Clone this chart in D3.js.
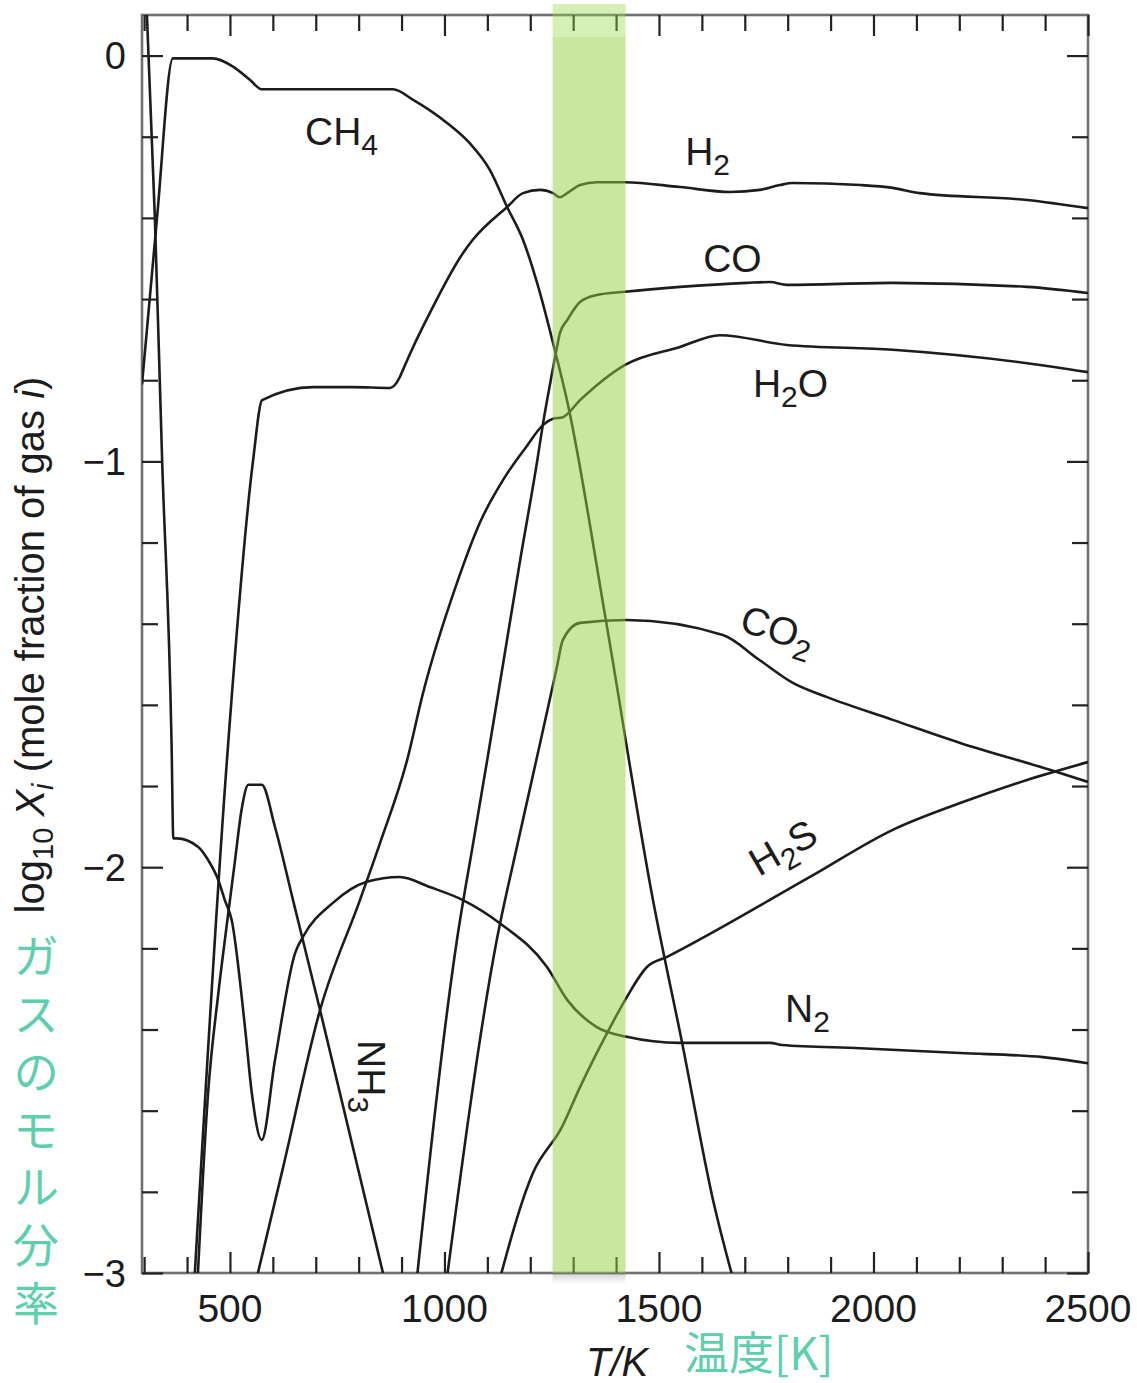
<!DOCTYPE html>
<html>
<head>
<meta charset="utf-8">
<script src="https://cdn.jsdelivr.net/npm/d3@7"></script>
<style>
  html, body { margin: 0; padding: 0; background: #fff; }
  svg { display: block; }
</style>
</head>
<body>
<svg id="chart" width="1137" height="1383"></svg>
<script>
// Equilibrium gas composition vs temperature: [T in K, log10 mole fraction]
const ch4 = [[295,-0.81],[330,-0.40],[367,-0.007],[460,-0.007],[507,-0.027],[547,-0.06],[574,-0.083],[880,-0.083],[927,-0.109],[1006,-0.166],[1059,-0.216],[1106,-0.282],[1146,-0.373],[1183,-0.454],[1220,-0.575],[1253,-0.708],[1288,-0.861],[1376,-1.39],[1486,-2.081],[1554,-2.433],[1626,-2.82],[1682,-3.05]];
const h2 = [[416,-3.04],[493,-1.736],[554,-0.997],[575,-0.849],[694,-0.817],[787,-0.817],[873,-0.819],[896,-0.792],[903,-0.775],[927,-0.718],[966,-0.634],[1043,-0.487],[1066,-0.454],[1146,-0.373],[1183,-0.339],[1223,-0.331],[1253,-0.339],[1269,-0.349],[1286,-0.339],[1316,-0.319],[1355,-0.312],[1421,-0.312],[1549,-0.324],[1666,-0.336],[1735,-0.331],[1782,-0.319],[1812,-0.314],[1969,-0.319],[2045,-0.326],[2108,-0.339],[2358,-0.356],[2500,-0.376]];
const co = [[932,-3.05],[1029,-2.18],[1067,-1.94],[1099,-1.74],[1138,-1.49],[1177,-1.24],[1216,-1.0],[1230,-0.905],[1246,-0.81],[1262,-0.72],[1269,-0.684],[1286,-0.652],[1316,-0.607],[1355,-0.59],[1421,-0.582],[1549,-0.57],[1705,-0.56],[1759,-0.558],[1798,-0.565],[2045,-0.56],[2358,-0.57],[2500,-0.585]];
const h2o = [[554,-3.05],[624,-2.739],[710,-2.352],[803,-2.081],[850,-1.94],[913,-1.736],[950,-1.571],[1029,-1.30],[1083,-1.15],[1140,-1.04],[1190,-0.965],[1230,-0.91],[1253,-0.895],[1276,-0.891],[1316,-0.849],[1421,-0.762],[1549,-0.718],[1642,-0.689],[1798,-0.713],[2045,-0.725],[2358,-0.758],[2500,-0.78]];
const co2 = [[1001,-3.05],[1122,-2.179],[1171,-1.94],[1223,-1.694],[1262,-1.507],[1276,-1.44],[1316,-1.398],[1425,-1.391],[1649,-1.428],[1735,-1.49],[1812,-1.546],[1892,-1.581],[2045,-1.637],[2202,-1.694],[2411,-1.76],[2500,-1.79]];
const h2s = [[1120,-3.05],[1206,-2.754],[1274,-2.64],[1316,-2.542],[1379,-2.409],[1425,-2.32],[1472,-2.246],[1519,-2.221],[1852,-2.024],[2045,-1.908],[2202,-1.842],[2358,-1.785],[2500,-1.741]];
const nh3 = [[423,-3.05],[449,-2.557],[473,-2.31],[492,-2.147],[512,-1.982],[527,-1.859],[543,-1.797],[574,-1.797],[605,-1.901],[647,-2.081],[710,-2.352],[868,-3.05]];
const n2 = [[305,0.14],[325,-0.40],[342,-1.0],[364,-1.70],[368,-1.929],[376,-1.929],[426,-1.95],[449,-1.982],[473,-2.032],[488,-2.081],[504,-2.13],[535,-2.394],[551,-2.557],[574,-2.672],[605,-2.475],[652,-2.211],[670,-2.172],[740,-2.088],[819,-2.036],[896,-2.024],[966,-2.049],[1043,-2.081],[1129,-2.138],[1239,-2.246],[1286,-2.327],[1355,-2.394],[1425,-2.418],[1549,-2.433],[1759,-2.433],[1787,-2.438],[1969,-2.446],[2202,-2.458],[2395,-2.468],[2500,-2.483]];

// Axis ticks and labels
const tempMajor = [500, 1000, 1500, 2000, 2500];
const tempMinor = d3.range(300, 2501, 100).filter(t => t % 500 !== 0);
const logMajor = [-3, -2, -1, 0];
const logMinor = d3.range(-15, 1).map(i => +(i * 0.2).toFixed(1)).filter(v => !Number.isInteger(v));

// Highlighted temperature window (K)
const bandRange = [1252, 1422];

// Axis titles
const yTitleJa = "ガスのモル分率";
const xTitleJa = "温度[K]";

const series = [
  { name: "CH4", values: ch4 }, { name: "H2", values: h2 }, { name: "CO", values: co },
  { name: "H2O", values: h2o }, { name: "CO2", values: co2 }, { name: "H2S", values: h2s },
  { name: "NH3", values: nh3 }, { name: "N2", values: n2 }
];

// Curve labels: main text, subscript, trailing text, anchor in data units, rotation
const curveLabels = [
  { main: "CH", sub: "4", T: 675, v: -0.220 },
  { main: "H", sub: "2", T: 1561, v: -0.270 },
  { main: "CO", T: 1603, v: -0.533 },
  { main: "H", sub: "2", tail: "O", T: 1719, v: -0.841 },
  { main: "CO", sub: "2", T: 1684, v: -1.416, rot: 18 },
  { main: "H", sub: "2", tail: "S", T: 1733, v: -2.024, rot: -30 },
  { main: "N", sub: "2", T: 1794, v: -2.382 },
  { main: "NH", sub: "3", T: 798, v: -2.426, rot: 90 }
];

const plot = { left: 142, right: 1088, top: 15, bottom: 1273 };
const latin = "'Liberation Sans', Arial, Helvetica, sans-serif";
const cjk = "'Noto Sans CJK JP', sans-serif";
const teal = "#5ecfad";
const ink = "#1c1c1c";

const x = d3.scaleLinear().domain([295, 2500]).range([plot.left, plot.right]);
const y = d3.scaleLinear().domain([-3, 0.1]).range([plot.bottom, plot.top]);

const svg = d3.select("#chart");
const defs = svg.append("defs");

defs.append("clipPath").attr("id", "plot-clip")
  .append("rect")
  .attr("x", plot.left).attr("y", plot.top)
  .attr("width", plot.right - plot.left).attr("height", plot.bottom - plot.top);

const shadowGrad = defs.append("linearGradient")
  .attr("id", "band-shadow").attr("x1", 0).attr("y1", 0).attr("x2", 0).attr("y2", 1);
shadowGrad.append("stop").attr("offset", 0).attr("stop-color", "#000").attr("stop-opacity", 0.16);
shadowGrad.append("stop").attr("offset", 1).attr("stop-color", "#000").attr("stop-opacity", 0);

// Frame
svg.append("rect")
  .attr("x", plot.left).attr("y", plot.top)
  .attr("width", plot.right - plot.left).attr("height", plot.bottom - plot.top)
  .attr("fill", "none").attr("stroke", "#707070").attr("stroke-width", 2.6);

// Curves
const line = d3.line()
  .x(d => x(d[0]))
  .y(d => y(d[1]))
  .curve(d3.curveMonotoneX);

svg.append("g").attr("clip-path", "url(#plot-clip)")
  .selectAll("path").data(series).join("path")
  .attr("d", d => line(d.values))
  .attr("fill", "none")
  .attr("stroke", ink)
  .attr("stroke-width", 2.6)
  .attr("stroke-linejoin", "round");

// Inward ticks on all four sides
function tickRow(axisFn, scale, values, size, tx, ty) {
  svg.append("g").attr("transform", `translate(${tx},${ty})`)
    .call(axisFn(scale).tickValues(values).tickSize(size).tickFormat(""))
    .call(g => g.select(".domain").remove())
    .call(g => g.selectAll("text").remove())
    .selectAll("line").attr("stroke", "#222").attr("stroke-width", 2.2);
}
tickRow(d3.axisBottom, x, tempMajor, -21, 0, plot.bottom);
tickRow(d3.axisBottom, x, tempMinor, -16, 0, plot.bottom);
tickRow(d3.axisTop, x, tempMajor, -21, 0, plot.top);
tickRow(d3.axisTop, x, tempMinor, -16, 0, plot.top);
tickRow(d3.axisLeft, y, logMajor, -21, plot.left, 0);
tickRow(d3.axisLeft, y, logMinor, -16, plot.left, 0);
tickRow(d3.axisRight, y, logMajor, -21, plot.right, 0);
tickRow(d3.axisRight, y, logMinor, -16, plot.right, 0);

// Highlight band over the curves
const bx0 = x(bandRange[0]), bx1 = x(bandRange[1]);
svg.append("rect")
  .attr("x", bx0).attr("y", 37).attr("width", bx1 - bx0).attr("height", plot.bottom - 37)
  .attr("fill", "rgb(150,205,64)").attr("fill-opacity", 0.5);
svg.append("rect")
  .attr("x", bx0).attr("y", 4).attr("width", bx1 - bx0).attr("height", 33)
  .attr("fill", "rgb(150,215,70)").attr("fill-opacity", 0.4);
svg.append("rect")
  .attr("x", bx0).attr("y", plot.bottom + 1).attr("width", bx1 - bx0).attr("height", 10)
  .attr("fill", "url(#band-shadow)");

// Tick labels
const fmt = d3.format("d");
svg.append("g").selectAll("text").data(tempMajor).join("text")
  .attr("x", d => x(d)).attr("y", 1322)
  .attr("text-anchor", "middle")
  .attr("font-family", latin).attr("font-size", 39).attr("fill", ink)
  .text(d => fmt(d));
svg.append("g").selectAll("text").data(logMajor).join("text")
  .attr("x", 126).attr("y", d => y(d)).attr("dy", "0.36em")
  .attr("text-anchor", "end")
  .attr("font-family", latin).attr("font-size", 38).attr("fill", ink)
  .text(d => fmt(d));

// Curve labels
curveLabels.forEach(l => {
  const t = svg.append("text")
    .attr("transform", `translate(${x(l.T)},${y(l.v)}) rotate(${l.rot || 0})`)
    .attr("font-family", latin).attr("font-size", 39).attr("fill", ink);
  t.append("tspan").text(l.main);
  if (l.sub) t.append("tspan").attr("font-size", 30).attr("dy", 10).text(l.sub);
  if (l.tail) t.append("tspan").attr("dy", -10).text(l.tail);
});

// Y axis title
const yTitle = svg.append("text")
  .attr("transform", "translate(44,645) rotate(-90)")
  .attr("text-anchor", "middle")
  .attr("font-family", latin).attr("font-size", 40).attr("fill", ink);
yTitle.append("tspan").text("log");
yTitle.append("tspan").attr("font-size", 29).attr("dy", 9).text("10");
yTitle.append("tspan").attr("dy", -9).text(" ");
yTitle.append("tspan").attr("font-style", "italic").text("X");
yTitle.append("tspan").attr("font-style", "italic").attr("font-size", 29).attr("dy", 9).text("i");
yTitle.append("tspan").attr("dy", -9).text(" (mole fraction of gas ");
yTitle.append("tspan").attr("font-style", "italic").text("i");
yTitle.append("tspan").text(")");

// X axis title
svg.append("text")
  .attr("x", 586).attr("y", 1376)
  .attr("font-family", latin).attr("font-size", 40).attr("font-style", "italic").attr("fill", ink)
  .text("T/K");

// Japanese captions: vertical one down the left side, horizontal one under the axis
svg.append("text")
  .attr("x", 36).attr("y", 933)
  .attr("font-family", cjk).attr("font-size", 46)
  .attr("fill", teal)
  .style("writing-mode", "vertical-rl")
  .style("text-orientation", "upright")
  .attr("letter-spacing", 11.7)
  .text(yTitleJa);
svg.append("text")
  .attr("x", 684).attr("y", 1370)
  .attr("font-family", cjk).attr("font-size", 45)
  .attr("fill", teal)
  .text(xTitleJa);
</script>
</body>
</html>
